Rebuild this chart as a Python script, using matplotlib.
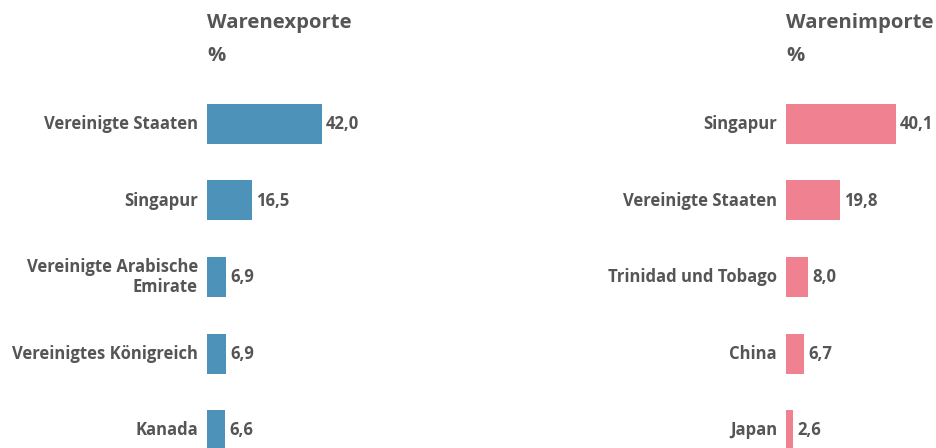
import matplotlib
matplotlib.use("Agg")
import matplotlib.pyplot as plt

export_countries = ["Vereinigte Staaten", "Singapur", "Vereinigte Arabische\nEmirate",
                    "Vereinigtes Königreich", "Kanada"]
export_values = [42.0, 16.5, 6.9, 6.9, 6.6]
import_countries = ["Singapur", "Vereinigte Staaten", "Trinidad und Tobago", "China", "Japan"]
import_values = [40.1, 19.8, 8.0, 6.7, 2.6]
titles = ["Warenexporte", "Warenimporte"]
unit = "%"

W, H = 937, 448
fig = plt.figure(figsize=(W / 100, H / 100), dpi=100)
plt.rcParams['font.family'] = ['Open Sans', 'DejaVu Sans']

TXT = "#555555"
FS = 12
spacing = 76.5
top_center = 124
ax_h = 5 * spacing
ax_top = top_center - spacing / 2
bottom = (H - (ax_top + ax_h)) / H
scale = 2.74  # px per unit
xmax = 50
ax_w = xmax * scale


def fmt(v):
    return f"{v:.1f}".replace(".", ",")


def panel(x0, cats, vals, color, title):
    ax = fig.add_axes([x0 / W, bottom, ax_w / W, ax_h / H])
    ys = list(range(len(vals)))
    ax.barh(ys, vals, height=40 / spacing, color=color)
    ax.set_xlim(0, xmax)
    ax.set_ylim(len(vals) - 0.5, -0.5)
    ax.axis("off")
    for y, v, c in zip(ys, vals, cats):
        ax.annotate(fmt(v), xy=(v, y), xytext=(3, 0), textcoords="offset points",
                    ha="left", va="center", fontsize=FS, color=TXT,
                    fontweight="bold", annotation_clip=False)
        ax.annotate(c, xy=(0, y), xytext=(-6.5, 0), textcoords="offset points",
                    ha="right", va="center", fontsize=FS, color=TXT,
                    fontweight="bold", annotation_clip=False,
                    multialignment="right", linespacing=1.2)
    fig.text(x0 / W, 1 - 23 / H, title, ha="left", va="center", fontsize=14.6,
             color=TXT, fontweight="bold")
    fig.text(x0 / W, 1 - 56 / H, unit, ha="left", va="center", fontsize=14.6,
             color=TXT, fontweight="bold")


panel(207, export_countries, export_values, "#4D93B9", titles[0])
panel(786, import_countries, import_values, "#F08191", titles[1])

fig.savefig("out.png", dpi=100, facecolor="white")
